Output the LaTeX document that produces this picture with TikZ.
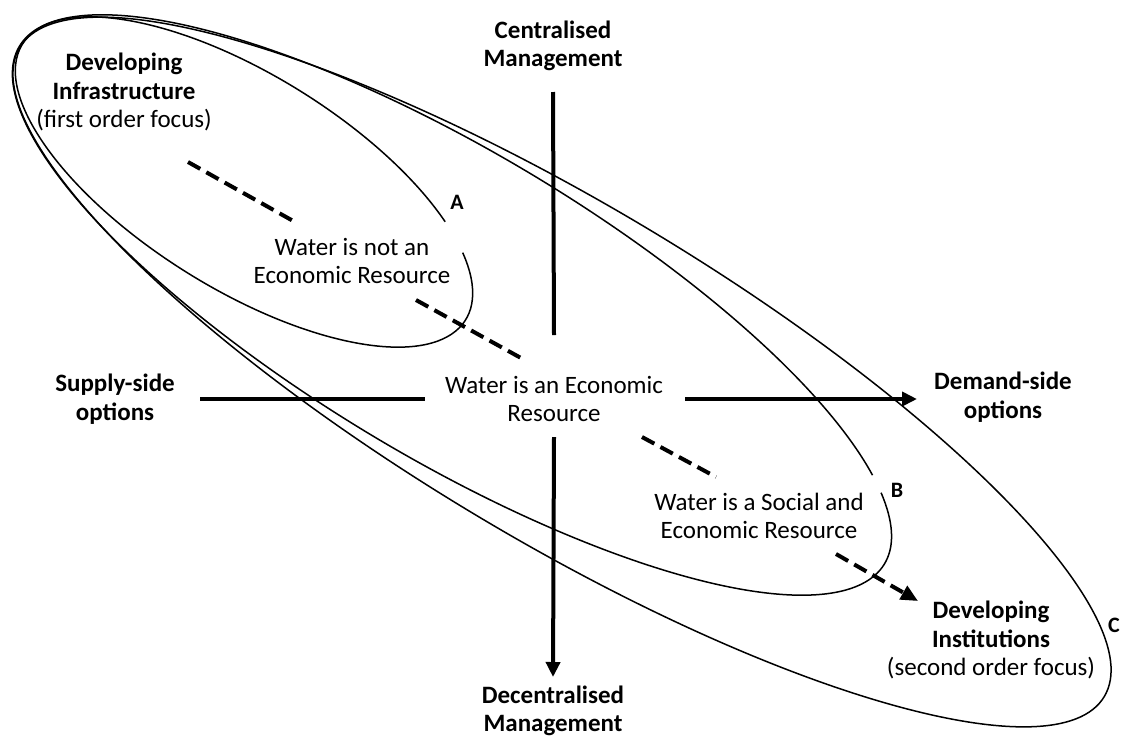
\documentclass[tikz,border=0pt]{standalone}
\usepackage{fontspec}
\setmainfont{Carlito}
\usetikzlibrary{arrows.meta}
\begin{document}
\begin{tikzpicture}[x=1pt, y=1pt,
  txt/.style={align=center, inner sep=0pt, font=\fontsize{25}{28.5}\selectfont},
  hdr/.style={txt, font=\fontsize{25}{28.5}\selectfont\bfseries},
  tag/.style={inner sep=0pt, font=\fontsize{22}{26}\selectfont\bfseries},
  ring/.style={line width=1.5pt},
  axis/.style={line width=4pt},
  axisarrow/.style={axis, -{Triangle[length=15pt, width=14pt]}},
  flow/.style={line width=4pt, dash pattern=on 14pt off 7pt},
  flowarrow/.style={flow, -{Triangle[length=17pt, width=15pt]}},
]
\useasboundingbox (0,0) rectangle (1122,-737);

% nested focus loops (outer C, middle B, inner A)
\draw[ring, shift={(562,-372)}, rotate=-30.9] (0,0) ellipse[x radius=632, y radius=167];
\draw[ring, shift={(452,-305)}, rotate=-30.9]
  (27.2:504 and 153) arc[start angle=27.2, end angle=382.8, x radius=504, y radius=153];
\draw[ring, shift={(244,-182)}, rotate=-31.9]
  (42.7:261 and 107) arc[start angle=42.7, end angle=391.3, x radius=261, y radius=107];

% labels
\node[hdr] (ci) at (553,-46)  {Centralised\\Management};
\node[hdr] (de) at (553,-711) {Decentralised\\Management};
\node[hdr] (su) at (115,-399) {Supply-side\\options};
\node[hdr] (dm) at (1003,-397) {Demand-side\\options};
\node[txt] (we) at (554,-399) {Water is an Economic\\Resource};
\node[txt] (wn) at (352,-261) {Water is not an\\Economic Resource};
\node[txt] (ws) at (759,-516) {Water is a Social and\\Economic Resource};
\node[txt] (di) at (124,-92)  {\textbf{Developing}\\\textbf{Infrastructure}\\(first order focus)};
\node[txt] (dn) at (991,-640) {\textbf{Developing}\\\textbf{Institutions}\\(second order focus)};
\node[tag] (la) at (457,-202) {A};
\node[tag] (lb) at (897,-490) {B};
\node[tag] (lc) at (1114,-625) {C};

% axes
\draw[axis] ([yshift=-46]ci.center) -- ([yshift=64]we.center);
\draw[axisarrow] ([yshift=-38]we.center) -- ([yshift=34]de.center);
\draw[axis] ([xshift=85]su.center) -- ([xshift=-129]we.center);
\draw[axisarrow] ([xshift=131]we.center) -- ([xshift=-86,yshift=-2]dm.center);

% progression of focus
\draw[flow] ([shift={(64,-70)}]di.center) -- ([shift={(-57,39)}]wn.center);
\draw[flow] ([shift={(64,-39)}]wn.center) -- ([shift={(-33,41)}]we.center);
\draw[flow] ([shift={(88,-38)}]we.center) -- ([shift={(-43,39)}]ws.center);
\draw[flowarrow] ([shift={(77,-38)}]ws.center) -- ([shift={(-73,39)}]dn.center);
\end{tikzpicture}
\end{document}
